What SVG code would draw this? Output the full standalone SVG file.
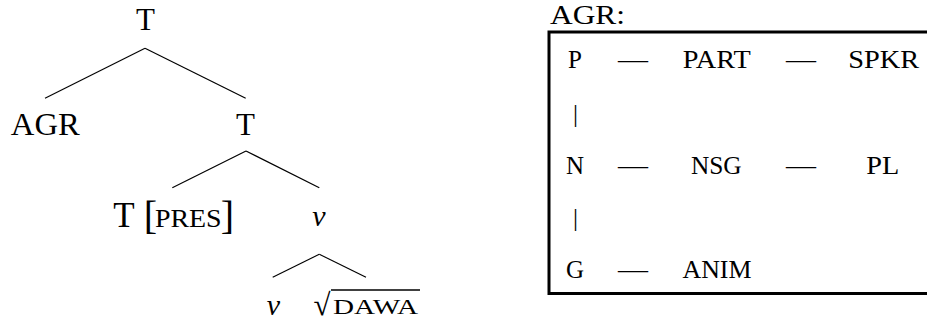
<svg xmlns="http://www.w3.org/2000/svg" width="927" height="321" viewBox="0 0 927 321">
<style>
  text { font-family: "Liberation Serif", "Times New Roman", serif; fill: #000; }
  .big { font-size: 31px; text-anchor: middle; }
  .it { font-style: italic; font-size: 30px; text-anchor: middle; }
  .cell { font-size: 25px; text-anchor: middle; }
  .sc { font-size: 25px; }
  .edge { stroke: #000; stroke-width: 1.2; fill: none; }
</style>
<rect width="927" height="321" fill="#fff"/>
<g id="connectors">
  <line class="edge" x1="145" y1="48.3" x2="45" y2="98.3"/>
  <line class="edge" x1="145" y1="48.3" x2="245.7" y2="98.3"/>
  <line class="edge" x1="246" y1="151" x2="172.3" y2="187.7"/>
  <line class="edge" x1="246" y1="151" x2="319.3" y2="187.7"/>
  <line class="edge" x1="319.3" y1="254.3" x2="272.7" y2="277.3"/>
  <line class="edge" x1="319.3" y1="254.3" x2="366" y2="277.3"/>
</g>
<g id="node-T-root"><text class="big" x="145.5" y="29.5">T</text></g>
<g id="node-AGR"><text class="big" x="45.3" y="134.5" textLength="69" lengthAdjust="spacingAndGlyphs">AGR</text></g>
<g id="node-T-mid"><text class="big" x="245.5" y="135">T</text></g>
<g id="node-T-pres">
  <text x="124" y="226.7" style="font-size:35px;text-anchor:middle">T</text>
  <text x="150.5" y="229" style="font-size:40px;text-anchor:middle">[</text>
  <text class="sc" x="188.3" y="226.7" text-anchor="middle" textLength="66.7" lengthAdjust="spacingAndGlyphs">PRES</text>
  <text x="227.5" y="229" style="font-size:40px;text-anchor:middle">]</text>
</g>
<g id="node-v-mid"><text class="it" x="319" y="226">v</text></g>
<g id="node-v-low"><text class="it" x="273.5" y="314.5">v</text></g>
<g id="node-root-DAWA">
  <text x="322" y="315" style="font-size:31px;text-anchor:middle">√</text>
  <line x1="331" y1="290" x2="420" y2="290" stroke="#000" stroke-width="1.4"/>
  <text x="375.5" y="313.5" style="font-size:21px;text-anchor:middle" textLength="85" lengthAdjust="spacingAndGlyphs">DAWA</text>
</g>
<g id="agr-table">
  <text x="550" y="24" style="font-size:27px" textLength="75" lengthAdjust="spacingAndGlyphs">AGR:</text>
  <rect x="549" y="32" width="400" height="261.5" fill="none" stroke="#000" stroke-width="3"/>
  <g id="row-P">
    <text class="cell" x="575" y="68">P</text>
    <text class="cell" x="633" y="68" textLength="30" lengthAdjust="spacingAndGlyphs">—</text>
    <text class="cell" x="716.7" y="68" textLength="68" lengthAdjust="spacingAndGlyphs">PART</text>
    <text class="cell" x="801" y="68" textLength="30" lengthAdjust="spacingAndGlyphs">—</text>
    <text class="cell" x="883.8" y="68" textLength="71" lengthAdjust="spacingAndGlyphs">SPKR</text>
  </g>
  <text class="cell" x="575.5" y="122">|</text>
  <g id="row-N">
    <text class="cell" x="575" y="174">N</text>
    <text class="cell" x="633" y="174" textLength="30" lengthAdjust="spacingAndGlyphs">—</text>
    <text class="cell" x="716.3" y="174" textLength="50.7" lengthAdjust="spacingAndGlyphs">NSG</text>
    <text class="cell" x="801" y="174" textLength="30" lengthAdjust="spacingAndGlyphs">—</text>
    <text class="cell" x="882.7" y="174" textLength="33" lengthAdjust="spacingAndGlyphs">PL</text>
  </g>
  <text class="cell" x="575.5" y="226">|</text>
  <g id="row-G">
    <text class="cell" x="575" y="278">G</text>
    <text class="cell" x="633" y="278" textLength="30" lengthAdjust="spacingAndGlyphs">—</text>
    <text class="cell" x="717" y="278" textLength="69" lengthAdjust="spacingAndGlyphs">ANIM</text>
  </g>
</g>
</svg>
